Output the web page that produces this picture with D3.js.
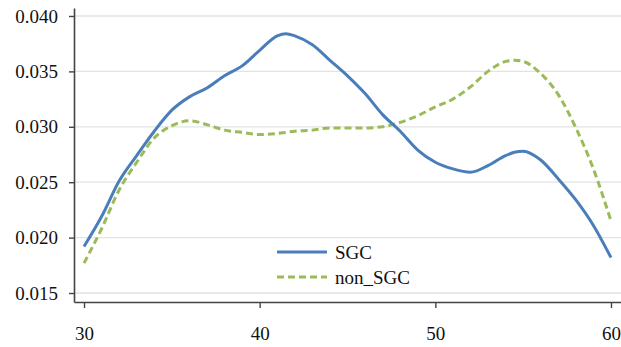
<!DOCTYPE html>
<html>
<head>
<meta charset="utf-8">
<script src="https://cdn.jsdelivr.net/npm/d3@7"></script>
<style>
  body { margin: 0; background: #fff; }
</style>
</head>
<body>
<div id="chart"></div>
<script>
// values
const ages   = [30, 31, 32, 33, 34, 35, 36, 37, 38, 39, 40, 41, 41.5, 42, 43, 44, 45, 46, 47, 48, 49, 50, 51, 52, 53, 54, 54.5, 55, 56, 57, 58, 59, 60];
const sgc    = [0.0192, 0.0219, 0.0251, 0.0274, 0.0296, 0.0315, 0.0327, 0.0335, 0.0346, 0.0355, 0.0369, 0.0382, 0.0384, 0.0382, 0.0374, 0.0360, 0.0346, 0.0330, 0.0311, 0.0296, 0.0279, 0.0268, 0.0262, 0.0259, 0.0265, 0.0274, 0.0277, 0.0278, 0.0270, 0.0253, 0.0234, 0.0211, 0.0182];
const nonSgc = [0.0177, 0.0208, 0.0243, 0.0268, 0.0290, 0.0301, 0.03055, 0.0302, 0.0297, 0.0295, 0.0293, 0.0294, 0.0295, 0.0296, 0.0297, 0.0299, 0.0299, 0.0299, 0.0300, 0.0304, 0.0310, 0.0318, 0.0325, 0.0336, 0.0350, 0.0359, 0.0360, 0.0359, 0.0348, 0.0329, 0.0299, 0.0262, 0.0215];
const xTicks = [30, 40, 50, 60];
const yTicks = [0.015, 0.020, 0.025, 0.030, 0.035, 0.040];
const seriesNames = ["SGC", "non_SGC"];
const seriesColors = ["#4a7ebb", "#9bbb59"];

const width = 621, height = 347;
const margin = { top: 8, right: 0, bottom: 45, left: 74 };
const serif = "'Liberation Serif', 'DejaVu Serif', 'Times New Roman', serif";
const fontSize = 19;

const svg = d3.select("#chart").append("svg")
  .attr("width", width)
  .attr("height", height)
  .attr("font-family", serif);

const x = d3.scaleLinear()
  .domain([29.43, 60.57])
  .range([margin.left, width - margin.right]);

const y = d3.scaleLinear()
  .domain([0.01419, 0.04072])
  .range([height - margin.bottom, margin.top]);

// horizontal gridlines
svg.append("g")
  .selectAll("line")
  .data(yTicks)
  .enter()
  .append("line")
  .attr("x1", margin.left)
  .attr("x2", width - margin.right)
  .attr("y1", d => y(d))
  .attr("y2", d => y(d))
  .attr("stroke", "#e3e3e3")
  .attr("stroke-width", 1.3);

// axes
const yAxis = svg.append("g")
  .attr("transform", "translate(" + margin.left + ",0)")
  .call(d3.axisLeft(y).tickValues(yTicks).tickFormat(d3.format(".3f")).tickSize(5).tickPadding(11).tickSizeOuter(0));

const xAxis = svg.append("g")
  .attr("transform", "translate(0," + (height - margin.bottom) + ")")
  .call(d3.axisBottom(x).tickValues(xTicks).tickFormat(d3.format("d")).tickSize(6).tickPadding(19).tickSizeOuter(0));

[xAxis, yAxis].forEach(g => {
  g.attr("font-family", serif).attr("font-size", fontSize);
  g.select(".domain").attr("stroke", "#444").attr("stroke-width", 1.6);
  g.selectAll(".tick line").attr("stroke", "#444").attr("stroke-width", 1.4);
  g.selectAll(".tick text").attr("fill", "#111");
});

// lines
const line = d3.line()
  .x(d => x(d[0]))
  .y(d => y(d[1]))
  .curve(d3.curveMonotoneX);

const sgcPts = ages.map((a, i) => [a, sgc[i]]);
const nonPts = ages.map((a, i) => [a, nonSgc[i]]);

svg.append("path")
  .datum(nonPts)
  .attr("d", line)
  .attr("fill", "none")
  .attr("stroke", seriesColors[1])
  .attr("stroke-width", 3)
  .attr("stroke-dasharray", "7,4");

svg.append("path")
  .datum(sgcPts)
  .attr("d", line)
  .attr("fill", "none")
  .attr("stroke", seriesColors[0])
  .attr("stroke-width", 3);

// legend
const legend = svg.append("g").attr("transform", "translate(277,252)");
seriesNames.forEach((name, i) => {
  const row = legend.append("g").attr("transform", "translate(0," + (i * 25) + ")");
  row.append("line")
    .attr("x1", 0).attr("x2", 50)
    .attr("y1", 0).attr("y2", 0)
    .attr("stroke", seriesColors[i])
    .attr("stroke-width", 3)
    .attr("stroke-dasharray", i === 1 ? "7,4" : null);
  row.append("text")
    .attr("x", 58)
    .attr("y", 0)
    .attr("dy", "0.35em")
    .attr("fill", "#111")
    .attr("font-size", fontSize)
    .text(name);
});
</script>
</body>
</html>
